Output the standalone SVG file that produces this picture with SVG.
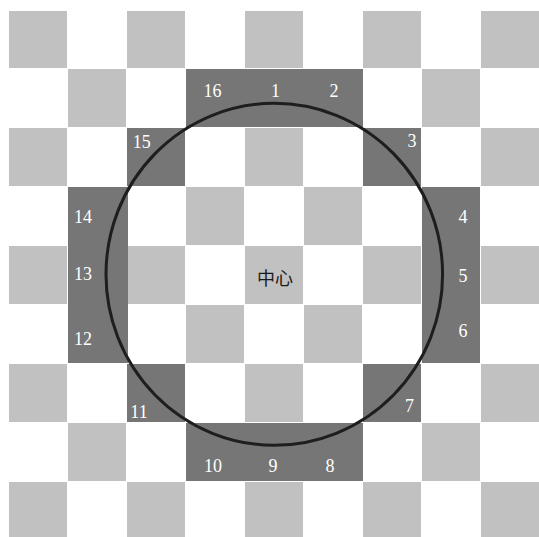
<svg xmlns="http://www.w3.org/2000/svg" width="539" height="537" viewBox="0 0 539 537">
<style>
.g{fill:#c1c1c1}
.d{fill:#767676}
.n{font-family:"Liberation Serif","Times New Roman",serif;font-size:18px;fill:#ffffff;text-anchor:middle}
.c{font-family:"Noto Sans CJK SC","Noto Sans CJK JP",sans-serif;font-size:18px;fill:#1a1a1a;text-anchor:middle}
</style>
<rect x="0" y="0" width="539" height="537" fill="#ffffff"/>
<g id="board">
<rect class="g" x="9" y="11" width="58" height="57"/>
<rect class="g" x="127" y="11" width="58" height="57"/>
<rect class="g" x="245" y="11" width="58" height="57"/>
<rect class="g" x="363" y="11" width="58" height="57"/>
<rect class="g" x="481" y="11" width="58" height="57"/>
<rect class="g" x="68" y="69" width="58" height="58"/>
<rect class="g" x="422" y="69" width="58" height="58"/>
<rect class="g" x="9" y="128" width="58" height="58"/>
<rect class="g" x="245" y="128" width="58" height="58"/>
<rect class="g" x="481" y="128" width="58" height="58"/>
<rect class="g" x="186" y="187" width="58" height="58"/>
<rect class="g" x="304" y="187" width="58" height="58"/>
<rect class="g" x="9" y="246" width="58" height="58"/>
<rect class="g" x="127" y="246" width="58" height="58"/>
<rect class="g" x="245" y="246" width="58" height="58"/>
<rect class="g" x="363" y="246" width="58" height="58"/>
<rect class="g" x="481" y="246" width="58" height="58"/>
<rect class="g" x="186" y="305" width="58" height="58"/>
<rect class="g" x="304" y="305" width="58" height="58"/>
<rect class="g" x="9" y="364" width="58" height="58"/>
<rect class="g" x="245" y="364" width="58" height="58"/>
<rect class="g" x="481" y="364" width="58" height="58"/>
<rect class="g" x="68" y="423" width="58" height="58"/>
<rect class="g" x="422" y="423" width="58" height="58"/>
<rect class="g" x="9" y="482" width="58" height="55"/>
<rect class="g" x="127" y="482" width="58" height="55"/>
<rect class="g" x="245" y="482" width="58" height="55"/>
<rect class="g" x="363" y="482" width="58" height="55"/>
<rect class="g" x="481" y="482" width="58" height="55"/>
</g>
<g id="ring">
<rect class="d" x="186" y="69" width="177" height="58"/>
<rect class="d" x="186" y="423" width="177" height="58"/>
<rect class="d" x="68" y="187" width="60" height="176"/>
<rect class="d" x="422" y="187" width="58" height="176"/>
<rect class="d" x="127" y="128" width="58" height="58"/>
<rect class="d" x="363" y="128" width="58" height="58"/>
<rect class="d" x="127" y="364" width="58" height="58"/>
<rect class="d" x="363" y="364" width="58" height="58"/>
</g>
<g id="circle">
<ellipse cx="274.3" cy="274.3" rx="168.3" ry="171" fill="none" stroke="#1e1e1e" stroke-width="3"/>
</g>
<g id="labels">
<text class="n" x="212.5" y="96.7">16</text>
<text class="n" x="275.5" y="96.7">1</text>
<text class="n" x="334" y="96.7">2</text>
<text class="n" x="141.7" y="147.7">15</text>
<text class="n" x="412" y="147.3">3</text>
<text class="n" x="83" y="223.3">14</text>
<text class="n" x="463" y="222.7">4</text>
<text class="n" x="83" y="280">13</text>
<text class="n" x="463" y="281.7">5</text>
<text class="n" x="83" y="345">12</text>
<text class="n" x="463" y="336.7">6</text>
<text class="n" x="139" y="417.7">11</text>
<text class="n" x="409.5" y="411.7">7</text>
<text class="n" x="213" y="472">10</text>
<text class="n" x="273" y="472">9</text>
<text class="n" x="330" y="472">8</text>
<text class="c" x="275" y="284.5">中心</text>
</g>
</svg>
